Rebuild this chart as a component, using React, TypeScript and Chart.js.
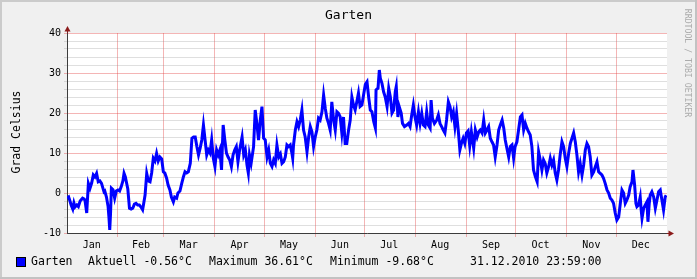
import { useEffect, useRef } from "react";
import { Chart, registerables } from "chart.js";

Chart.register(...registerables);

// Day of year (0 = 1 Jan 2010) and temperature in °C
const days = [
  0, 1, 1.8, 2.5, 3.5, 4.2, 4.9, 6, 6.9, 8, 9.5, 10.5, 11, 12, 13, 14, 15, 16, 17, 18, 19, 20, 21, 22.5, 23, 24, 25, 25.5, 26, 26.5, 27, 28, 29, 30,
  31, 32, 33, 34, 34.7, 35.5, 36, 37, 38, 39, 40, 41, 42, 43, 44, 45, 46, 46.5, 47.5, 48.5, 49.5, 50.5, 51.5, 52.5, 53.5, 54.5, 55.5, 56.5, 57.6, 58.6,
  59.5, 60.6, 61.5, 62.6, 63.5, 64.7, 65.5, 66.7, 67.5, 68.7, 69.8, 70.8, 71.8, 72.8, 73.8, 75, 76, 77, 78, 79, 80, 81, 82, 83, 84, 85, 86, 87, 88, 89,
  90, 91, 92, 93, 94, 95, 96, 97, 98, 99, 100, 101, 102, 103, 104, 105, 106.5, 107.5, 108.5, 109.5, 110.3, 111, 112, 113.5, 114.5, 115.5, 116.5, 117.6, 118.6, 119.6,
  120.6, 121.7, 122.7, 123.7, 124.7, 125.7, 126.7, 127.7, 128.8, 129.8, 130.8, 131.8, 132.8, 133.8, 134.8, 135.8, 136.8, 137.3, 137.8, 138.9, 139.9, 140.9, 141.9, 142.9, 143.9, 144.9, 146, 147, 148, 149, 150,
  151, 152, 153, 154, 155.1, 156.1, 157.1, 158.1, 159.1, 160.1, 161.1, 162.2, 163.2, 164.2, 165.2, 166.2, 167.2, 168.2, 169.2, 170.2, 171.3, 172.3, 173.3, 174.3, 175.3, 176.3, 177.3, 178.3, 179.4, 180.4,
  181.5, 182.5, 183.5, 184.5, 185.5, 186.6, 187.6, 188, 189.2, 190, 190.6, 191.6, 192.6, 193.6, 194.7, 195.7, 196.7, 197.7, 198.7, 199.7, 200.3, 201.3, 202.1, 203.3, 204.1, 205.3, 206.7, 207.7, 208.7, 209.7, 210.7,
  211.7, 212.7, 213.8, 214.8, 215.8, 216.8, 217.8, 218.8, 219.8, 220.9, 221.5, 222.3, 223.5, 224.9, 225.9, 226.9, 227.9, 228.9, 229.9, 230.9, 232, 233, 234, 235, 236, 237, 238, 239, 240, 241, 242,
  243, 244, 245, 246, 247.4, 248.4, 249.5, 250.5, 251.4, 252.5, 253.5, 254.5, 255.5, 256.5, 257.5, 258.5, 259.5, 260.5, 261.6, 262.6, 263.6, 264.7, 265.7, 266.6, 267.6, 268.7, 269.7, 270.7, 271.7, 272.6,
  273.7, 274.7, 275.8, 276.8, 277.8, 278.8, 279.8, 280.8, 281.8, 282.8, 283.8, 284.9, 286, 286.9, 287.9, 288.9, 289.9, 290.9, 291.9, 293, 294, 295, 296, 297, 298, 299, 300, 301.1, 302.1, 303.1,
  304.1, 305.2, 306.2, 307.2, 308.2, 309.2, 310.2, 311.2, 312.2, 313.3, 314.3, 315.3, 316.3, 317.3, 318.3, 319.3, 320.4, 321.4, 322.4, 323.4, 324.4, 325.4, 326.4, 327.4, 328.5, 329.5, 330.5, 331.5, 332.5, 333.5,
  334.5, 335.6, 336.6, 337.6, 338.6, 339.6, 340.6, 341.7, 342.6, 343.7, 344.3, 345.3, 346.1, 346.7, 347.7, 348.7, 349.3, 349.8, 350.8, 351.8, 352.8, 353.4, 354.2, 354.8, 355.8, 356.9, 357.9, 358.9, 359.9, 360.9,
  361.9, 362.9, 363.9, 364.5,
];
const temps = [
  -1.3, -1, -2, -3, -4, -2.5, -3.5, -3, -3.4, -2, -1.3, -1.5, -2, -5, 2.4, 1.2, 2.5, 4.5, 4, 4.9, 2.8, 3, 2.4, 0.3, 0.5, -1, -3.4, -6, -9.25, -5, 1.2, 0.8, -1.3, 0.5,
  0.75, 0.5, 1.6, 3, 4.9, 4, 3, 1, -3.8, -4, -3.8, -2.8, -2.6, -3, -3, -3.5, -4.2, -3, -0.5, 4.9, 3, 2.8, 5, 8.7, 8, 9.9, 8, 9, 8.5, 5.3,
  5, 3.7, 2, 0.75, -1, -2.2, -1, -1.3, 0, 0.5, 2.4, 4, 5.3, 5, 5.3, 7.4, 13.7, 14, 14, 11.6, 9.5, 11.2, 13.25, 17, 13.25, 9.5, 10.75, 10, 13.25, 8.7,
  6.6, 10.75, 9.5, 10.75, 5.75, 17, 13.25, 10, 9, 8.25, 6.6, 9.5, 10.75, 11.6, 7.8, 10.75, 14, 9.5, 10.75, 7, 5, 9.5, 7.4, 11.6, 20.75, 17.4, 13.25, 18.25, 21.6, 13.7,
  13.25, 9, 10.75, 7.4, 6.6, 8.25, 7.4, 12, 9, 9.75, 7.4, 7.8, 9, 12, 11.6, 12, 10, 8.7, 12, 15.75, 17.8, 16.6, 18.25, 20.75, 15.75, 14, 10.3, 14, 16.6, 15.3, 11.6,
  14, 15.75, 18.7, 18.25, 20.3, 24.5, 21.2, 18.7, 17.4, 15.75, 22.8, 18.25, 15.75, 20.3, 19.9, 19, 15, 19, 12.4, 12.4, 15.75, 18.25, 24, 22, 20.75, 22.8, 25, 21.6, 22, 24.5,
  27.2, 27.8, 24, 20.75, 20.3, 17.8, 16.2, 25.75, 26.2, 30.75, 28.7, 27.4, 25.3, 24, 21.6, 26.2, 24, 20, 20.75, 25.3, 26.6, 19, 21.6, 20, 17.4, 16.6, 17, 17.4, 16.6, 19.5, 22,
  19, 17, 20.3, 17.4, 19.9, 17, 16.6, 20.3, 17, 16.2, 23.25, 18.7, 17.4, 18.25, 19.5, 17.4, 16.6, 15.75, 15, 18.25, 22.8, 21.6, 19, 20.3, 16.6, 19.9, 15.75, 10.75, 12.5, 13.7, 12.4,
  15, 15.5, 11.8, 15.3, 11.2, 15.75, 14, 15.3, 15.75, 15, 18.25, 15, 15.75, 16.6, 13.7, 12.8, 12, 9, 12, 15.75, 17, 18.25, 16.2, 13.25, 11.2, 9, 11.6, 12, 8.7, 11.6,
  12.8, 15.75, 19, 19.5, 15.75, 17.4, 16.2, 15.3, 14.5, 11.6, 5.75, 4.1, 2.8, 10.3, 8.25, 5.75, 8.25, 7.4, 5, 6.6, 8.7, 7, 8.25, 5, 3.25, 5.75, 9.5, 12.8, 11.6, 8.7,
  6.6, 10, 12.4, 13.7, 15, 12.8, 9.5, 5.3, 7.4, 4.5, 7, 10.75, 12.4, 11.6, 9, 4.5, 5.3, 6.6, 7.8, 5.3, 4.9, 4.5, 3.7, 2.4, 0.75, 0, -1.3, -1.75, -2.6, -5,
  -6.75, -6, -2.6, 0.75, 0, -2.6, -1.75, -0.5, 1.6, 2.8, 5.75, 2, -2.6, -3.4, -3, -1, -4.25, -6.3, -3.8, -3, -2.2, -7.2, -2.6, -0.5, 0.3, -1, -3.8, -1.75, 0.3, 0.75,
  -1.75, -4.25, -1, -0.56,
];

const monthStarts = [31, 59, 90, 120, 151, 181, 212, 243, 273, 304, 334];
const monthLabelDays = [15, 45, 74, 105, 135, 166, 196, 227, 258, 288, 319, 349];
const monthNames = ["Jan", "Feb", "Mar", "Apr", "May", "Jun", "Jul", "Aug", "Sep", "Oct", "Nov", "Dec"];
const yMin = -10;
const yMax = 40;
const yStep = 2;
const yLabelEvery = 10;

const chartTitle = "Garten";
const yAxisTitle = "Grad Celsius";
const watermark = "RRDTOOL / TOBI OETIKER";
const seriesName = "Garten";
const legendCurrent = "Aktuell -0.56°C";
const legendMax = "Maximum 36.61°C";
const legendMin = "Minimum -9.68°C";
const legendDate = "31.12.2010 23:59:00";

const MONO = "'DejaVu Sans Mono', monospace";
const RED_GRID = "rgba(225,60,60,0.38)";
const GRAY_GRID = "rgba(140,140,140,0.28)";
const AXIS = "#3c3c3c";
const ARROW = "#8b1a1a";

export default function App() {
  const ref = useRef<HTMLCanvasElement | null>(null);

  useEffect(() => {
    const canvas = ref.current;
    if (!canvas) return;
    const points = days.map((d, i) => ({ x: d, y: temps[i] }));
    const tickVals = [...monthStarts, ...monthLabelDays].sort((a, b) => a - b);

    const framePlugin = {
      id: "rrdframe",
      beforeDraw(chart: any) {
        const { ctx, chartArea: a, width, height } = chart;
        ctx.save();
        ctx.fillStyle = "#F0F0F0";
        ctx.fillRect(0, 0, width, height);
        ctx.fillStyle = "#CBCBCB";
        ctx.fillRect(0, 0, width, 2);
        ctx.fillRect(0, 0, 2, height);
        ctx.fillStyle = "#C2C2C2";
        ctx.fillRect(0, height - 2, width, 2);
        ctx.fillRect(width - 2, 0, 2, height);
        ctx.fillStyle = "#FFFFFF";
        ctx.fillRect(a.left, a.top, a.right - a.left, a.bottom - a.top);
        ctx.restore();
      },
      afterDraw(chart: any) {
        const { ctx, chartArea: a, width } = chart;
        ctx.save();
        // arrows
        ctx.fillStyle = ARROW;
        ctx.fillRect(a.left, a.top - 2, 1, 2);
        ctx.beginPath();
        ctx.moveTo(a.left + 0.5, a.top - 7);
        ctx.lineTo(a.left - 2.5, a.top - 1.5);
        ctx.lineTo(a.left + 3.5, a.top - 1.5);
        ctx.closePath();
        ctx.fill();
        ctx.fillRect(a.right, a.bottom, 2, 1);
        ctx.beginPath();
        ctx.moveTo(a.right + 7, a.bottom + 0.5);
        ctx.lineTo(a.right + 1.5, a.bottom - 2.5);
        ctx.lineTo(a.right + 1.5, a.bottom + 3.5);
        ctx.closePath();
        ctx.fill();

        // title
        ctx.fillStyle = "#000";
        ctx.textAlign = "center";
        ctx.textBaseline = "middle";
        ctx.font = `13px ${MONO}`;
        ctx.fillText(chartTitle, width / 2, 16);

        // y axis title
        ctx.save();
        ctx.translate(17, (a.top + a.bottom) / 2 - 1);
        ctx.rotate(-Math.PI / 2);
        ctx.font = `11.5px ${MONO}`;
        ctx.fillText(yAxisTitle, 0, 0);
        ctx.restore();

        // watermark
        ctx.save();
        ctx.translate(687, 63);
        ctx.rotate(Math.PI / 2);
        ctx.font = `8.2px ${MONO}`;
        ctx.fillStyle = "#ABABAB";
        ctx.fillText(watermark, 0, 0);
        ctx.restore();

        // legend
        ctx.fillStyle = "#000";
        ctx.fillRect(16, 257, 10, 10);
        ctx.fillStyle = "#0000FF";
        ctx.fillRect(17, 258, 8, 8);
        ctx.fillStyle = "#000";
        ctx.textAlign = "left";
        ctx.font = `11.5px ${MONO}`;
        const ly = 262;
        ctx.fillText(seriesName, 31, ly);
        ctx.fillText(legendCurrent, 88, ly);
        ctx.fillText(legendMax, 209, ly);
        ctx.fillText(legendMin, 330, ly);
        ctx.fillText(legendDate, 470, ly);
        ctx.restore();
      },
    };

    const chart = new Chart(canvas, {
      type: "line",
      data: {
        datasets: [
          {
            data: points,
            borderColor: "#0000FF",
            borderWidth: 3,
            pointRadius: 0,
            tension: 0,
            fill: false,
          },
        ],
      },
      options: {
        animation: false,
        responsive: false,
        events: [],
        layout: { padding: { top: 33, right: 30, left: 0, bottom: 0 } },
        plugins: {
          legend: { display: false },
          tooltip: { enabled: false },
          title: { display: false },
        },
        scales: {
          x: {
            type: "linear",
            min: 0,
            max: 365,
            afterBuildTicks: (s: any) => {
              s.ticks = tickVals.map((v) => ({ value: v }));
            },
            afterFit: (s: any) => {
              s.height = 46;
            },
            grid: {
              color: (c: any) =>
                c.tick && monthStarts.includes(c.tick.value) ? RED_GRID : "rgba(0,0,0,0)",
              drawTicks: true,
              tickLength: 4,
              lineWidth: 1,
            },
            border: { color: AXIS, width: 1 },
            ticks: {
              autoSkip: false,
              maxRotation: 0,
              minRotation: 0,
              padding: 2,
              color: "#000",
              font: { family: MONO, size: 10 },
              callback: (v: any) => {
                const i = monthLabelDays.indexOf(Number(v));
                return i >= 0 ? monthNames[i] : "";
              },
            },
          },
          y: {
            type: "linear",
            min: yMin,
            max: yMax,
            afterFit: (s: any) => {
              s.width = 67;
            },
            ticks: {
              stepSize: yStep,
              autoSkip: false,
              padding: 3,
              color: "#000",
              font: { family: MONO, size: 10 },
              callback: (v: any) => (Number(v) % yLabelEvery === 0 ? String(v) : ""),
            },
            grid: {
              color: (c: any) =>
                c.tick && c.tick.value % yLabelEvery === 0 ? RED_GRID : GRAY_GRID,
              tickLength: 3,
              lineWidth: 1,
            },
            border: { color: AXIS, width: 1 },
          },
        },
      },
      plugins: [framePlugin],
    } as any);

    return () => chart.destroy();
  }, []);

  return (
    <div style={{ position: "fixed", left: 0, top: 0, width: 697, height: 279 }}>
      <canvas ref={ref} width={697} height={279} style={{ display: "block" }} />
    </div>
  );
}
